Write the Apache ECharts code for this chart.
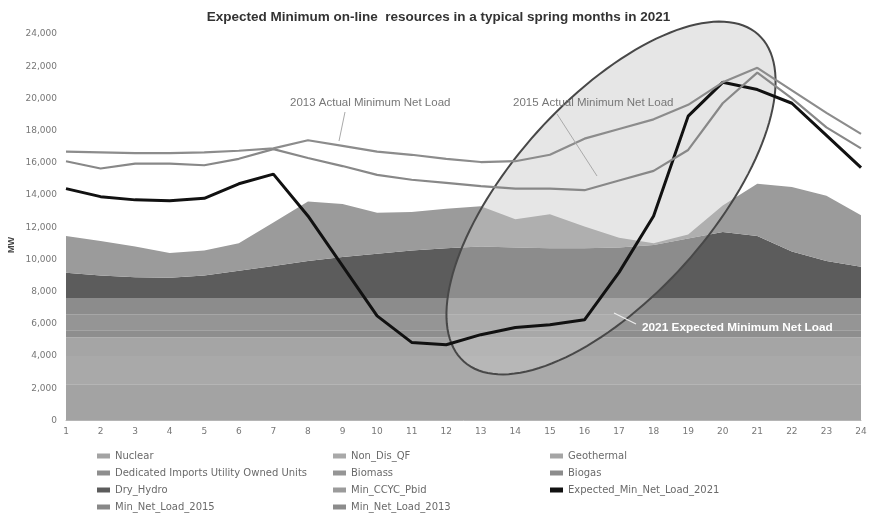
<!DOCTYPE html>
<html>
<head>
<meta charset="utf-8">
<script src="https://cdn.jsdelivr.net/npm/echarts@6/dist/echarts.min.js"></script>
<style>html,body{margin:0;padding:0;background:#fff}#c{width:877px;height:517px}</style>
</head>
<body>
<div id="c"></div>
<script>
const hours = ['1','2','3','4','5','6','7','8','9','10','11','12','13','14','15','16','17','18','19','20','21','22','23','24'];
const yTicks = [0,2000,4000,6000,8000,10000,12000,14000,16000,18000,20000,22000,24000];

const nuclear          = [2250,2250,2250,2250,2250,2250,2250,2250,2250,2250,2250,2250,2250,2250,2250,2250,2250,2250,2250,2250,2250,2250,2250,2250];
const nonDisQF         = [1750,1750,1750,1750,1750,1750,1750,1750,1750,1750,1750,1750,1750,1750,1750,1750,1750,1750,1750,1750,1750,1750,1750,1750];
const geothermal       = [1150,1150,1150,1150,1150,1150,1150,1150,1150,1150,1150,1150,1150,1150,1150,1150,1150,1150,1150,1150,1150,1150,1150,1150];
const dedicatedImports = [450,450,450,450,450,450,450,450,450,450,450,450,450,450,450,450,450,450,450,450,450,450,450,450];
const biomass          = [1000,1000,1000,1000,1000,1000,1000,1000,1000,1000,1000,1000,1000,1000,1000,1000,1000,1000,1000,1000,1000,1000,1000,1000];
const biogas           = [1000,1000,1000,1000,1000,1000,1000,1000,1000,1000,1000,1000,1000,1000,1000,1000,1000,1000,1000,1000,1000,1000,1000,1000];
const dryHydro         = [1580,1400,1300,1270,1400,1700,2000,2300,2550,2750,2950,3100,3200,3150,3100,3100,3150,3300,3700,4100,3850,2900,2300,1950];
const minCCYC          = [2270,2150,1900,1530,1550,1700,2700,3700,3300,2550,2400,2450,2500,1750,2100,1350,600,100,250,1650,3250,4000,4050,3200];

const netLoad2021 = [14400,13900,13700,13650,13800,14700,15300,12700,9600,6500,4850,4700,5330,5770,5950,6250,9200,12700,18900,21000,20550,19700,17700,15700];
const netLoad2015 = [16100,15650,15950,15950,15850,16250,16850,16300,15800,15250,14950,14750,14550,14400,14400,14300,14900,15500,16800,19700,21600,20000,18200,16900];
const netLoad2013 = [16700,16650,16600,16600,16650,16750,16900,17400,17050,16700,16500,16250,16050,16100,16500,17500,18100,18700,19600,21000,21900,20500,19100,17800];

const FONT = 'DejaVu Sans, Liberation Sans, Arial, sans-serif';
const chart = echarts.init(document.getElementById('c'), null, {renderer:'canvas'});

function area(name, data, color){
  return {name, type:'line', stack:'total', data, symbol:'none', z:1,
    lineStyle:{width:0}, areaStyle:{color, opacity:1}, itemStyle:{color}};
}
function line(name, data, color, w){
  return {name, type:'line', data, symbol:'none', z:5,
    lineStyle:{width:w, color}, itemStyle:{color}};
}

// ellipse annotation (pixel space)
const ell = [];
{
  const cx=611, cy=198, a=220, b=99, th=48*Math.PI/180;
  for(let i=0;i<144;i++){
    const t=i/144*2*Math.PI;
    const ux=Math.cos(th), uy=-Math.sin(th), vx=Math.sin(th), vy=Math.cos(th);
    ell.push([cx + a*Math.cos(t)*ux + b*Math.sin(t)*vx, cy + a*Math.cos(t)*uy + b*Math.sin(t)*vy]);
  }
}

const legTxt = {fontSize:10, color:'#6a6a6a', fontFamily:FONT};
function leg(left, names){
  return {orient:'vertical', left, top:451, padding:0, itemWidth:13, itemHeight:5, itemGap:7,
    icon:'rect', data:names, textStyle:legTxt, selectedMode:false};
}

chart.setOption({
  animation:false,
  backgroundColor:'#fff',
  title:{text:'Expected Minimum on-line  resources in a typical spring months in 2021', left:'center', top:5,
    textStyle:{fontSize:13.5, fontWeight:'bold', color:'#333', fontFamily:'Liberation Sans, Arial, sans-serif'}},
  grid:{left:66, right:16, top:34, bottom:96.5},
  legend:[
    leg(97, ['Nuclear','Dedicated Imports Utility Owned Units','Dry_Hydro','Min_Net_Load_2015']),
    leg(333, ['Non_Dis_QF','Biomass','Min_CCYC_Pbid','Min_Net_Load_2013']),
    leg(550, ['Geothermal','Biogas','Expected_Min_Net_Load_2021'])
  ],
  xAxis:{type:'category', data:hours, boundaryGap:false,
    axisLine:{show:true, lineStyle:{color:'#bbb'}}, axisTick:{show:false},
    axisLabel:{interval:0, fontSize:9, color:'#777', margin:7, fontFamily:FONT}},
  yAxis:{type:'value', min:yTicks[0], max:yTicks[yTicks.length-1], interval:2000,
    axisLine:{show:false}, axisTick:{show:false}, splitLine:{show:false},
    axisLabel:{fontSize:9, color:'#777', margin:9, fontFamily:FONT,
      formatter:v=>v.toLocaleString('en-US')}},
  series:[
    area('Nuclear', nuclear, '#a3a3a3'),
    area('Non_Dis_QF', nonDisQF, '#a9a9a9'),
    area('Geothermal', geothermal, '#a5a5a5'),
    area('Dedicated Imports Utility Owned Units', dedicatedImports, '#8e8e8e'),
    area('Biomass', biomass, '#959595'),
    area('Biogas', biogas, '#8c8c8c'),
    area('Dry_Hydro', dryHydro, '#5c5c5c'),
    area('Min_CCYC_Pbid', minCCYC, '#9b9b9b'),
    line('Expected_Min_Net_Load_2021', netLoad2021, '#111', 3),
    line('Min_Net_Load_2015', netLoad2015, '#888', 2.2),
    line('Min_Net_Load_2013', netLoad2013, '#8c8c8c', 2.2)
  ],
  graphic:[
    {type:'polygon', z:3, shape:{points:ell}, style:{fill:'rgba(200,200,200,0.45)', stroke:'#484848', lineWidth:2}},
    {type:'text', z:6, x:12, y:245, rotation:Math.PI/2, style:{text:'MW', fontSize:9, fontWeight:'bold', fill:'#444', fontFamily:'Liberation Sans, Arial, sans-serif', align:'center', verticalAlign:'middle'}},
    {type:'line', z:6, shape:{x1:345,y1:112,x2:339,y2:141}, style:{stroke:'#aaa', lineWidth:1}},
    {type:'text', z:6, x:290, y:97, style:{text:'2013 Actual Minimum Net Load', fontSize:11.5, fill:'#777', fontFamily:'Liberation Sans, Arial, sans-serif'}},
    {type:'line', z:6, shape:{x1:557,y1:114,x2:597,y2:176}, style:{stroke:'#aaa', lineWidth:1}},
    {type:'text', z:6, x:513, y:97, style:{text:'2015 Actual Minimum Net Load', fontSize:11.5, fill:'#777', fontFamily:'Liberation Sans, Arial, sans-serif'}},
    {type:'line', z:6, shape:{x1:614,y1:313,x2:636,y2:324}, style:{stroke:'#eee', lineWidth:1.2}},
    {type:'text', z:6, x:642, y:322, style:{text:'2021 Expected Minimum Net Load', fontSize:11.8, fontWeight:'bold', fill:'#fff', fontFamily:'Liberation Sans, Arial, sans-serif'}}
  ]
});
</script>
</body>
</html>
